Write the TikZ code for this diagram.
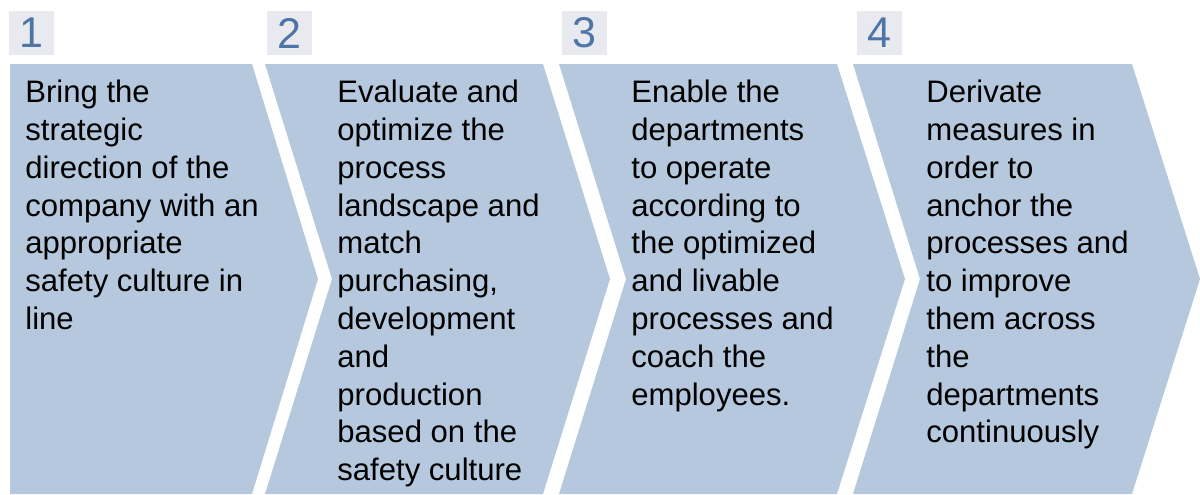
\documentclass[tikz,border=0pt]{standalone}
\usepackage{fontspec}
\setmainfont{Liberation Sans}
\usetikzlibrary{positioning}
\definecolor{chevblue}{RGB}{181, 200, 221}
\definecolor{numfill}{RGB}{232, 234, 240}
\definecolor{numtext}{RGB}{79, 117, 167}

\begin{document}
\begin{tikzpicture}[
    x=0.02cm, y=-0.02cm,
    chev/.style={fill=chevblue},
    numbox/.style={fill=numfill, minimum width=0.9cm, minimum height=0.88cm, inner sep=0pt, text=numtext, font=\fontsize{24.5pt}{26pt}\selectfont},
    desc/.style={anchor=north west, inner sep=0pt, align=left, font=\fontsize{17.7pt}{21.5pt}\selectfont}
]
    \useasboundingbox (0,0) rectangle (1200,494);

    \fill[chev] (10,64) -- (252,64) -- (318,279) -- (252,494) -- (10,494) -- cycle;
    \fill[chev] (265,64) -- (543,64) -- (610,279) -- (543,494) -- (265,494) -- (332,279) -- cycle;
    \fill[chev] (559,64) -- (837,64) -- (905,279) -- (837,494) -- (559,494) -- (626,279) -- cycle;
    \fill[chev] (853,64) -- (1132,64) -- (1200,279) -- (1132,494) -- (853,494) -- (920,279) -- cycle;

    \node[numbox] (num1) at (31.5,33) {1};
    \node[numbox] (num2) at (289.5,33) {2};
    \node[numbox] (num3) at (584.5,33) {3};
    \node[numbox] (num4) at (879.5,33) {4};

    \node[desc] (txt1) at (25,80) {
        Bring the\\
        strategic\\
        direction of the\\
        company with an\\
        appropriate\\
        safety culture in\\
        line
    };
    \node[desc] (txt2) at (337,80) {
        Evaluate and\\
        optimize the\\
        process\\
        landscape and\\
        match\\
        purchasing,\\
        development\\
        and\\
        production\\
        based on the\\
        safety culture
    };
    \node[desc] (txt3) at (631,80) {
        Enable the\\
        departments\\
        to operate\\
        according to\\
        the optimized\\
        and livable\\
        processes and\\
        coach the\\
        employees.
    };
    \node[desc] (txt4) at (926,80) {
        Derivate\\
        measures in\\
        order to\\
        anchor the\\
        processes and\\
        to improve\\
        them across\\
        the\\
        departments\\
        continuously
    };
\end{tikzpicture}
\end{document}
